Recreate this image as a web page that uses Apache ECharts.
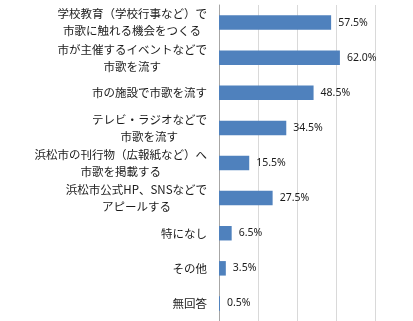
<!DOCTYPE html>
<html><head><meta charset="utf-8">
<script src="https://cdn.jsdelivr.net/npm/echarts@6/dist/echarts.min.js"></script>
<style>html,body{margin:0;padding:0;background:#fff}#c{width:413px;height:321px}</style>
</head><body><div id="c"></div>
<script>
const categories = [
  "学校教育（学校行事など）で\n市歌に触れる機会をつくる",
  "市が主催するイベントなどで\n市歌を流す",
  "市の施設で市歌を流す",
  "テレビ・ラジオなどで\n市歌を流す",
  "浜松市の刊行物（広報紙など）へ\n市歌を掲載する",
  "浜松市公式HP、SNSなどで\nアピールする",
  "特になし",
  "その他",
  "無回答"
];
const values = [57.5, 62.0, 48.5, 34.5, 15.5, 27.5, 6.5, 3.5, 0.5];
const xTicks = [0, 20, 40, 60, 80];

const LABEL_FONT = 'Noto Sans CJK JP';
const LABEL_SIZE = 11.5;
const ctx = document.createElement('canvas').getContext('2d');
ctx.font = LABEL_SIZE + 'px "' + LABEL_FONT + '"';
const rich = {};
categories.forEach(function (c, i) {
  const lines = c.split('\n');
  const ws = lines.map(function (s) { return ctx.measureText(s).width; });
  const maxW = Math.max.apply(null, ws);
  ws.forEach(function (w, j) {
    rich['c' + i + '_' + j] = {
      padding: [0, Math.round((maxW - w) / 2), 0, 0],
      fontFamily: LABEL_FONT, fontSize: LABEL_SIZE, lineHeight: 17, color: '#1a1a1a'
    };
  });
});

const chart = echarts.init(document.getElementById('c'), null, {renderer: 'canvas'});
chart.setOption({
  animation: false,
  backgroundColor: '#fff',
  grid: {left: 219, right: 38, top: 5, bottom: 0, containLabel: false},
  xAxis: {
    type: 'value', min: xTicks[0], max: xTicks[xTicks.length - 1], interval: 20,
    axisLabel: {show: false}, axisTick: {show: false}, axisLine: {show: false},
    splitLine: {show: true, lineStyle: {color: '#d9d9d9', width: 1}}
  },
  yAxis: {
    type: 'category', inverse: true, data: categories,
    axisTick: {show: false},
    axisLine: {show: true, lineStyle: {color: '#a6a6a6', width: 1}},
    axisLabel: {
      margin: 12, align: 'right', color: '#1a1a1a',
      fontFamily: LABEL_FONT, fontSize: LABEL_SIZE, lineHeight: 17,
      formatter: function (v, i) {
        return v.split('\n').map(function (s, j) { return '{c' + i + '_' + j + '|' + s + '}'; }).join('\n');
      },
      rich: rich
    }
  },
  series: [{
    type: 'bar', data: values, barWidth: 14.5,
    itemStyle: {color: '#4f81bd'},
    label: {
      show: true, position: 'right', distance: 7,
      formatter: function (p) { return p.value.toFixed(1) + '%'; },
      fontFamily: 'Noto Sans', fontSize: 10.5, color: '#1a1a1a'
    }
  }]
});
</script></body></html>
